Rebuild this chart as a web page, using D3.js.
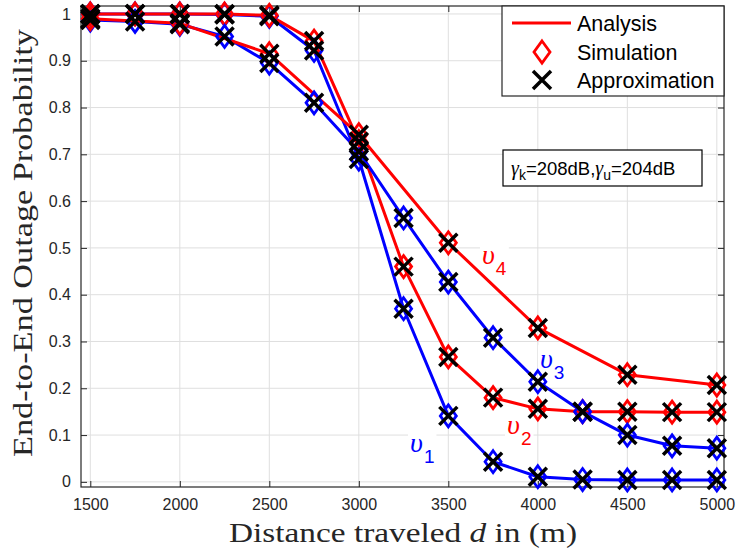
<!DOCTYPE html>
<html><head><meta charset="utf-8">
<script src="https://cdn.jsdelivr.net/npm/d3@7"></script>
<style>body{margin:0;background:#fff}svg{display:block}</style>
</head><body><svg id="c" width="736" height="552"></svg>
<script>
// ---- data ----
const dist250 = [1500,1750,2000,2250,2500,2750,3000,3250,3500,3750,4000,4250,4500,4750,5000];
const dist500 = [1500,2000,2500,3000,3500,4000,4500,5000];
const v1 = [1.0,1.0,1.0,0.999,0.995,0.922,0.69,0.37,0.141,0.043,0.011,0.005,0.004,0.004,0.004];
const v2 = [1.0,1.0,1.0,1.0,0.997,0.942,0.727,0.46,0.267,0.18,0.156,0.150,0.150,0.149,0.149];
const v3 = [0.987,0.984,0.978,0.952,0.895,0.81,0.706,0.564,0.427,0.308,0.214,0.150,0.100,0.077,0.072];
const v4 = [0.99,0.98,0.915,0.742,0.511,0.329,0.229,0.207];
const xTicks = [1500,2000,2500,3000,3500,4000,4500,5000];
const yTicks = [0,0.1,0.2,0.3,0.4,0.5,0.6,0.7,0.8,0.9,1];
const legendLabels = ["Analysis","Simulation","Approximation"];
const curveLabels = [
  {sub:"1", color:"#0000ff", d:3286, p:0.064},
  {sub:"2", color:"#ff0000", d:3828, p:0.102},
  {sub:"3", color:"#0000ff", d:4012, p:0.243},
  {sub:"4", color:"#ff0000", d:3688, p:0.466}
];

const series = [
  {x:dist250, y:v1, color:"#0000ff"},
  {x:dist250, y:v2, color:"#ff0000"},
  {x:dist250, y:v3, color:"#0000ff"},
  {x:dist500, y:v4, color:"#ff0000"}
];

const svg = d3.select("#c");
const L=81, R=724, T=6, B=487;
const x = d3.scaleLinear().domain([1448,5040]).range([L,R]);
const y = d3.scaleLinear().domain([-0.011,1.017]).range([B,T]);
const axisCol = "#262626";
const sans = "'Liberation Sans', Arial, Helvetica, sans-serif";
const serif = "'Liberation Serif', 'Times New Roman', serif";

svg.append("rect").attr("x",L).attr("y",T).attr("width",R-L).attr("height",B-T).attr("fill","#fff");

// grid
const g = svg.append("g");
g.selectAll("line.gx").data(xTicks).join("line")
  .attr("x1",d=>x(d)).attr("x2",d=>x(d)).attr("y1",T).attr("y2",B)
  .attr("stroke","#dfdfdf").attr("stroke-width",1);
g.selectAll("line.gy").data(yTicks).join("line")
  .attr("y1",d=>y(d)).attr("y2",d=>y(d)).attr("x1",L).attr("x2",R)
  .attr("stroke","#dfdfdf").attr("stroke-width",1);

// axes
const xb = d3.axisBottom(x).tickValues(xTicks).tickSize(-6).tickPadding(12).tickFormat(d3.format("d"));
const yl = d3.axisLeft(y).tickValues(yTicks).tickSize(-6).tickPadding(10).tickFormat(d=>d===0?"0":d===1?"1":d3.format(".1f")(d));
const xt = d3.axisTop(x).tickValues(xTicks).tickSize(-6).tickFormat("");
const yr = d3.axisRight(y).tickValues(yTicks).tickSize(-6).tickFormat("");
function styleAxis(sel){
  sel.select(".domain").remove();
  sel.selectAll("line").attr("stroke",axisCol);
  sel.selectAll("text").attr("fill",axisCol).style("font-family",sans).style("font-size","16px");
}
svg.append("g").attr("transform",`translate(0,${B})`).call(xb).call(styleAxis);
svg.append("g").attr("transform",`translate(${L},0)`).call(yl).call(styleAxis);
svg.append("g").attr("transform",`translate(0,${T})`).call(xt).call(styleAxis);
svg.append("g").attr("transform",`translate(${R},0)`).call(yr).call(styleAxis);
svg.append("rect").attr("x",L).attr("y",T).attr("width",R-L).attr("height",B-T)
  .attr("fill","none").attr("stroke",axisCol).attr("stroke-width",1.2);

const lblG = svg.append("g");
const lineG = svg.append("g");
const mkG = svg.append("g");
const txtG = svg.append("g");

const labelNodes = curveLabels.map(c=>{
  const t = txtG.append("text").attr("x",x(c.d)).attr("y",y(c.p)).attr("fill",c.color);
  t.append("tspan").text("υ").style("font-family",serif).style("font-style","italic").style("font-size","28px");
  t.append("tspan").text(c.sub).attr("dy",11).attr("dx",1).style("font-family",sans).style("font-size","19px");
  return t;
});
labelNodes.forEach(t=>{
  const b = t.node().getBBox();
  lblG.append("rect").attr("x",b.x-2).attr("y",b.y+2).attr("width",b.width+4).attr("height",b.height-2).attr("fill","#fff");
});

const line = d3.line();
series.forEach(s=>{
  lineG.append("path")
    .attr("d", line(s.x.map((d,i)=>[x(d),y(s.y[i])])))
    .attr("fill","none").attr("stroke",s.color).attr("stroke-width",3).attr("stroke-linejoin","round");
});
const diamond = "M0,-11L8,0L0,11L-8,0Z";
const cross = "M-9,-9L9,9M-9,9L9,-9";
series.forEach(s=>{
  mkG.append("g").selectAll("path").data(s.x.map((d,i)=>[d,s.y[i]])).join("path")
    .attr("transform",d=>`translate(${x(d[0])},${y(d[1])})`)
    .attr("d",diamond).attr("fill","none").attr("stroke",s.color).attr("stroke-width",2.8);
});
series.forEach(s=>{
  mkG.append("g").selectAll("path").data(s.x.map((d,i)=>[d,s.y[i]])).join("path")
    .attr("transform",d=>`translate(${x(d[0])},${y(d[1])})`)
    .attr("d",cross).attr("fill","none").attr("stroke","#000").attr("stroke-width",3.5);
});

// annotation box
const ann = svg.append("g");
ann.append("rect").attr("x",503).attr("y",150).attr("width",199).attr("height",36)
  .attr("fill","#fff").attr("stroke","#000").attr("stroke-width",1.2);
const at = ann.append("text").attr("x",511).attr("y",175).attr("fill","#000").style("font-family",sans).style("font-size","18.5px");
at.append("tspan").text("γ").style("font-family",serif).style("font-style","italic").style("font-size","20px");
at.append("tspan").text("k").attr("dy",5).style("font-size","14px");
at.append("tspan").text("=208dB,").attr("dy",-5);
at.append("tspan").text("γ").style("font-family",serif).style("font-style","italic").style("font-size","20px");
at.append("tspan").text("u").attr("dy",5).style("font-size","14px");
at.append("tspan").text("=204dB").attr("dy",-5);

// legend
const lg = svg.append("g");
lg.append("rect").attr("x",502).attr("y",6).attr("width",222).attr("height",90)
  .attr("fill","#fff").attr("stroke",axisCol).attr("stroke-width",1.2);
const rowY = [23,52,80];
lg.append("line").attr("x1",512).attr("x2",571).attr("y1",rowY[0]).attr("y2",rowY[0]).attr("stroke","#ff0000").attr("stroke-width",3);
lg.append("path").attr("transform",`translate(542,${rowY[1]})`).attr("d",diamond).attr("fill","none").attr("stroke","#ff0000").attr("stroke-width",2.8);
lg.append("path").attr("transform",`translate(542,${rowY[2]})`).attr("d",cross).attr("fill","none").attr("stroke","#000").attr("stroke-width",3.5);
lg.selectAll("text").data(legendLabels).join("text")
  .attr("x",577).attr("y",(d,i)=>rowY[i]+8).text(d=>d)
  .style("font-family",sans).style("font-size","21.5px").attr("fill","#000");

// axis titles
const xl = svg.append("text").attr("x",403).attr("y",542).attr("text-anchor","middle")
  .attr("textLength",348).attr("lengthAdjust","spacingAndGlyphs")
  .attr("fill",axisCol).style("font-family",serif).style("font-size","28px");
xl.append("tspan").text("Distance traveled ");
xl.append("tspan").text("d").style("font-style","italic");
xl.append("tspan").text(" in (m)");
svg.append("text").attr("transform","translate(32,243) rotate(-90)").attr("text-anchor","middle")
  .attr("textLength",428).attr("lengthAdjust","spacingAndGlyphs")
  .attr("fill",axisCol).style("font-family",serif).style("font-size","28px")
  .text("End-to-End Outage Probability");
</script></body></html>
